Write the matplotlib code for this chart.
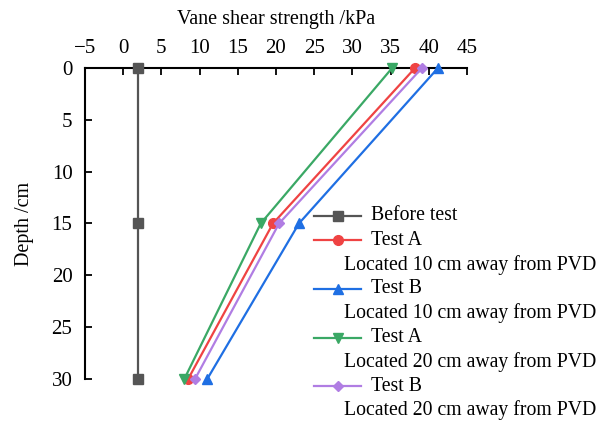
import matplotlib
matplotlib.use('Agg')
from matplotlib import pyplot as plt
from matplotlib.lines import Line2D

plt.rcParams['font.family'] = ['Liberation Serif', 'DejaVu Serif']

depth = [0, 15, 30]
before_test = [2.0, 2.0, 2.0]
test_a_10 = [38.2, 19.6, 8.5]
test_b_10 = [41.2, 23.0, 11.0]
test_a_20 = [35.2, 18.0, 8.0]
test_b_20 = [39.1, 20.4, 9.4]

names = ['Before test', 'Test A', 'Test B', 'Test A', 'Test B']
notes = ['', 'Located 10 cm away from PVD', 'Located 10 cm away from PVD',
         'Located 20 cm away from PVD', 'Located 20 cm away from PVD']
colors = ['#555555', '#ef4343', '#1f6fe3', '#3aa865', '#b07de3']
markers = ['s', 'o', '^', 'v', 'D']
msizes = [6.5, 7, 7, 7, 5.5]
series = [before_test, test_a_10, test_b_10, test_a_20, test_b_20]

W, H = 608, 425
fig = plt.figure(figsize=(W / 100, H / 100), dpi=100)
ax = fig.add_axes([85 / W, 1 - 379 / H, (467 - 85) / W, (379 - 68) / H])

for ys, c, m, ms in zip(series, colors, markers, msizes):
    ax.plot(ys, depth, color=c, marker=m, markersize=ms, linewidth=1.6,
            clip_on=False, zorder=3)

ax.set_xlim(-5, 45)
ax.set_ylim(30, 0)
ax.set_xticks(range(-5, 46, 5))
ax.set_xticklabels(['\u22125'] + [str(v) for v in range(0, 46, 5)])
ax.set_yticks(range(0, 31, 5))
ax.xaxis.tick_top()
ax.xaxis.set_label_position('top')
ax.tick_params(axis='both', direction='in', length=5, width=1.3, labelsize=15)
ax.tick_params(axis='x', pad=7)
ax.tick_params(axis='y', pad=9)
for s in ['right', 'bottom']:
    ax.spines[s].set_visible(False)
for s in ['left', 'top']:
    ax.spines[s].set_linewidth(1.5)
ax.set_xlabel('Vane shear strength /kPa', fontsize=14.5, labelpad=11)
ax.set_ylabel('Depth /cm', fontsize=14.5, labelpad=13)

# legend drawn by hand in figure pixels
row_y = 216
step = 24.3
for name, note, c, m, ms in zip(names, notes, colors, markers, msizes):
    yy = 1 - row_y / H
    fig.add_artist(Line2D([314 / W, 361 / W], [yy, yy], color=c, linewidth=1.6,
                          transform=fig.transFigure))
    fig.add_artist(Line2D([337.5 / W], [yy], color=c, marker=m, markersize=ms,
                          transform=fig.transFigure))
    fig.text(371 / W, yy, name, fontsize=14.2, va='center', ha='left')
    row_y += step
    if note:
        fig.text(344 / W, 1 - row_y / H, note, fontsize=14.2, va='center', ha='left')
        row_y += step

fig.savefig('out.png', dpi=100)
